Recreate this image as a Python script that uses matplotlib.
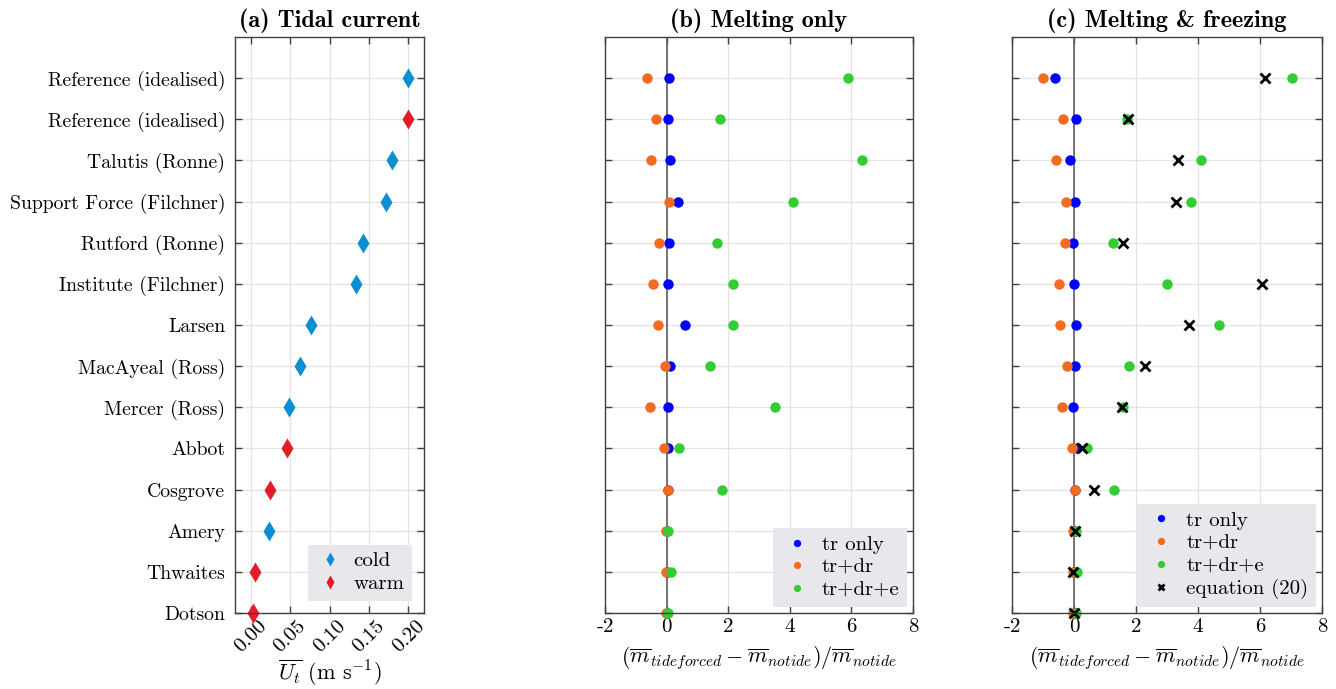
import numpy as np
import matplotlib
matplotlib.use('Agg')
import matplotlib.pyplot as plt
from matplotlib.lines import Line2D

plt.rcParams['font.family'] = 'serif'
plt.rcParams['font.serif'] = ['cmr10']
plt.rcParams['mathtext.fontset'] = 'cm'
plt.rcParams['axes.unicode_minus'] = False

names = ['Reference (idealised)', 'Reference (idealised)', 'Talutis (Ronne)',
         'Support Force (Filchner)', 'Rutford (Ronne)', 'Institute (Filchner)',
         'Larsen', 'MacAyeal (Ross)', 'Mercer (Ross)', 'Abbot', 'Cosgrove',
         'Amery', 'Thwaites', 'Dotson']
is_cold = [True, False, True, True, True, True, True, True, True, False, False,
           True, False, False]
u_tide = [0.200, 0.200, 0.179, 0.172, 0.143, 0.134, 0.076, 0.062, 0.049,
          0.046, 0.024, 0.023, 0.005, 0.003]

# (b) melting only
b_tr = [0.09, 0.04, 0.10, 0.36, 0.09, 0.06, 0.59, 0.11, 0.03, 0.06, 0.03, 0.02, 0.02, 0.02]
b_trdr = [-0.63, -0.35, -0.52, 0.08, -0.24, -0.45, -0.28, -0.04, -0.53, -0.08, 0.04, -0.03, -0.03, -0.03]
b_trdre = [5.88, 1.74, 6.34, 4.09, 1.64, 2.14, 2.16, 1.40, 3.53, 0.41, 1.81, 0.05, 0.13, 0.05]

# (c) melting & freezing
c_tr = [-0.61, 0.05, -0.12, 0.02, -0.03, -0.01, 0.08, 0.02, -0.02, 0.11, 0.03, 0.02, 0.00, 0.02]
c_trdr = [-0.99, -0.35, -0.57, -0.27, -0.29, -0.50, -0.45, -0.21, -0.40, -0.06, 0.04, -0.02, -0.04, -0.04]
c_trdre = [7.02, 1.72, 4.10, 3.78, 1.27, 3.00, 4.69, 1.78, 1.57, 0.43, 1.29, 0.06, 0.11, 0.06]
c_eq20 = [6.17, 1.74, 3.34, 3.28, 1.59, 6.07, 3.70, 2.30, 1.56, 0.25, 0.65, 0.02, -0.03, 0.00]

xt_a = [0, 0.05, 0.10, 0.15, 0.20]
xt_bc = [-2, 0, 2, 4, 6, 8]

col_cold = '#0a8fd2'
col_warm = '#e31d25'
col_tr = '#0000ff'
col_trdr = '#f26b21'
col_trdre = '#33cc33'
frame = '#404040'
leg_bg = '#e8e8ec'

y = np.arange(len(names), 0, -1)
W, H = 1336, 689
fig = plt.figure(figsize=(W / 100, H / 100), dpi=100)

def make_ax(x0, x1, y0=37, y1=613):
    ax = fig.add_axes([x0 / W, 1 - y1 / H, (x1 - x0) / W, (y1 - y0) / H])
    ax.set_ylim(1, 15)
    ax.set_yticks(y)
    ax.grid(True, color='#e3e3e3', lw=0.9)
    ax.set_axisbelow(True)
    ax.tick_params(direction='in', top=True, right=True, length=5,
                   color=frame, labelsize=15, width=1)
    for s in ax.spines.values():
        s.set_color(frame)
        s.set_linewidth(1)
    return ax

def leg(ax, **kw):
    ax.legend(loc='lower right', fontsize=15, frameon=True, facecolor=leg_bg,
              edgecolor='none', framealpha=1, fancybox=False, handletextpad=0.4,
              labelspacing=0.2, borderpad=0.35, **kw)

# (a)
ax1 = make_ax(235, 424)
for yy, u, c in zip(y, u_tide, is_cold):
    ax1.plot(u, yy, 'd', ms=10, color=col_cold if c else col_warm, mec='none', clip_on=False)
ax1.set_xlim(-0.02, 0.22)
ax1.set_xticks(xt_a)
ax1.set_xticklabels(['%.2f' % v for v in xt_a], rotation=45)
ax1.set_yticklabels(names)
ax1.tick_params(axis='y', pad=7, labelsize=14.2)
ax1.tick_params(axis='x', pad=3)
ax1.set_xlabel(r'$\overline{U_t}$ (m s$^{-1}$)', fontsize=16, labelpad=1)
ax1.set_title('(a) Tidal current', fontsize=17.5, family='cmb10', pad=7)
hand = [Line2D([], [], ls='none', marker='d', ms=7, color=col_cold, mec='none', label='cold'),
        Line2D([], [], ls='none', marker='d', ms=7, color=col_warm, mec='none', label='warm')]
leg(ax1, handles=hand, borderaxespad=0.6, handlelength=1.4)

xl = r'$(\overline{m}_{tideforced} - \overline{m}_{notide})/\overline{m}_{notide}$'

# (b)
ax2 = make_ax(605, 913)
ax2.axvline(0, color='#606060', lw=1.2, zorder=1)
ax2.plot(b_tr, y, 'o', ms=7.5, color=col_tr, mec='none', clip_on=False, label='tr only')
ax2.plot(b_trdr, y, 'o', ms=7.5, color=col_trdr, mec='none', clip_on=False, label='tr+dr')
ax2.plot(b_trdre, y, 'o', ms=7.5, color=col_trdre, mec='none', clip_on=False, label='tr+dr+e')
ax2.set_xlim(-2, 8)
ax2.set_xticks(xt_bc)
ax2.set_xticklabels([str(v) for v in xt_bc])
ax2.set_yticklabels([])
ax2.set_xlabel(xl, fontsize=16, labelpad=6)
ax2.set_title('(b) Melting only', fontsize=17.5, family='cmb10', pad=7)
leg(ax2, markerscale=0.7, borderaxespad=0.3, handlelength=1.6)

# (c)
ax3 = make_ax(1012, 1322)
ax3.axvline(0, color='#606060', lw=1.2, zorder=1)
ax3.plot(c_tr, y, 'o', ms=7.5, color=col_tr, mec='none', clip_on=False, label='tr only')
ax3.plot(c_trdr, y, 'o', ms=7.5, color=col_trdr, mec='none', clip_on=False, label='tr+dr')
ax3.plot(c_trdre, y, 'o', ms=7.5, color=col_trdre, mec='none', clip_on=False, label='tr+dr+e')
ax3.plot(c_eq20, y, 'x', ms=6.5, mew=2, color='black', clip_on=False, label='equation (20)')
ax3.set_xlim(-2, 8)
ax3.set_xticks(xt_bc)
ax3.set_xticklabels([str(v) for v in xt_bc])
ax3.set_yticklabels([])
ax3.set_xlabel(xl, fontsize=16, labelpad=6)
ax3.set_title('(c) Melting & freezing', fontsize=17.5, family='cmb10', pad=7)
leg(ax3, markerscale=0.7, borderaxespad=0.3, handlelength=1.6)

fig.savefig('out.png', dpi=100)
